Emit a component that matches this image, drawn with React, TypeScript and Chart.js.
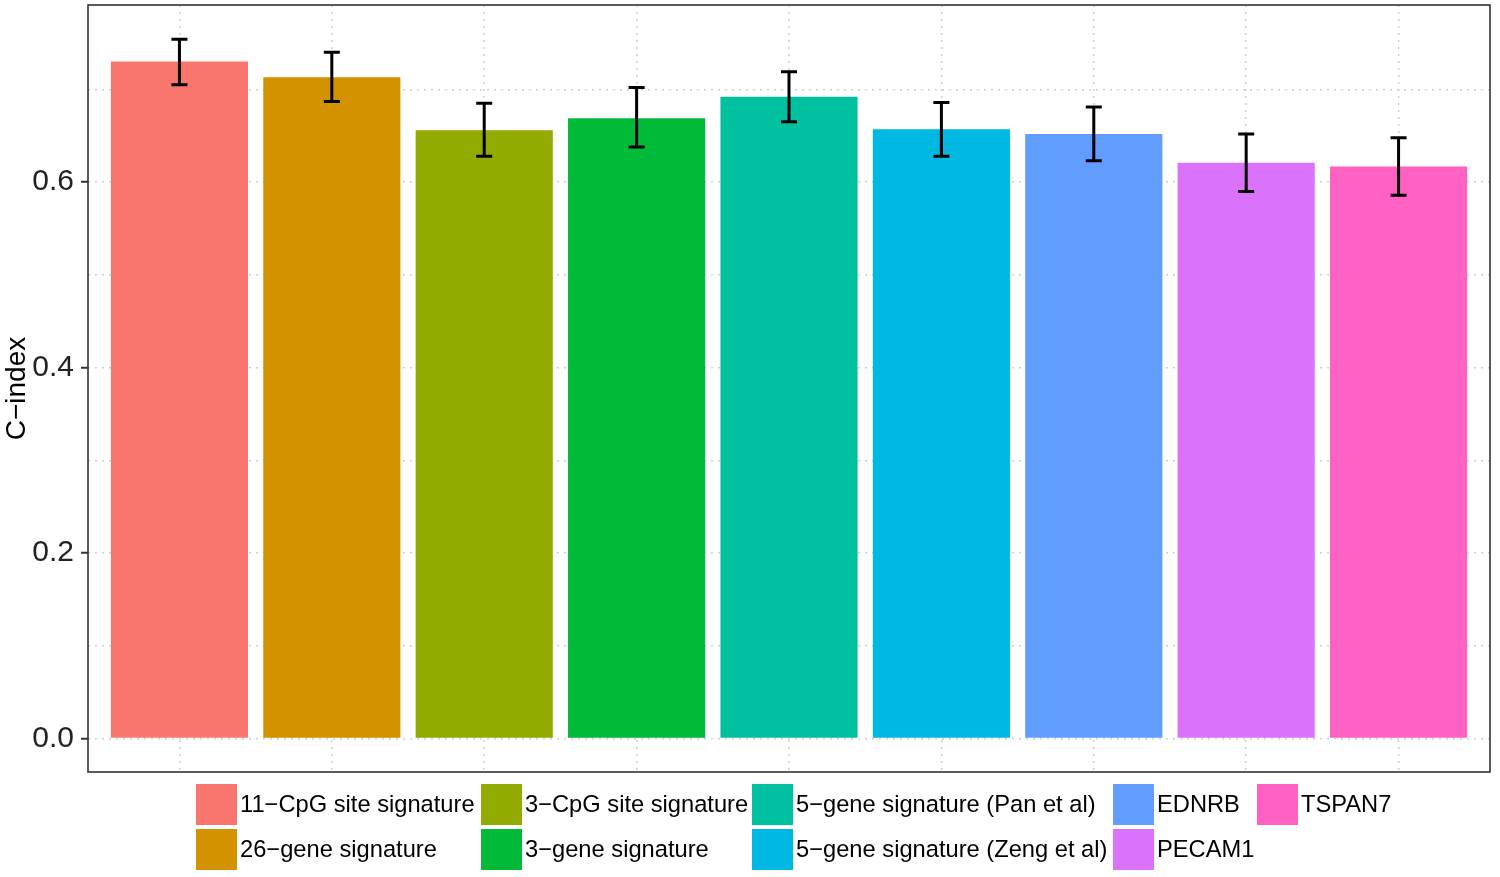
import React, { useEffect, useRef } from "react";
import { Chart, registerables } from "chart.js";

Chart.register(...registerables);

const categories = [
  "11−CpG site signature",
  "26−gene signature",
  "3−CpG site signature",
  "3−gene signature",
  "5−gene signature (Pan et al)",
  "5−gene signature (Zeng et al)",
  "EDNRB",
  "PECAM1",
  "TSPAN7",
];
const cIndex = [0.73, 0.713, 0.656, 0.669, 0.692, 0.657, 0.652, 0.621, 0.617];
const ciLower = [0.705, 0.687, 0.628, 0.638, 0.665, 0.628, 0.623, 0.59, 0.586];
const ciUpper = [0.754, 0.74, 0.685, 0.702, 0.719, 0.686, 0.681, 0.652, 0.648];
const colors = [
  "#F8766D",
  "#D39200",
  "#93AA00",
  "#00BA38",
  "#00C19F",
  "#00B9E3",
  "#619CFF",
  "#DB72FB",
  "#FF61C3",
];
const yMajorTicks = [0, 0.2, 0.4, 0.6];
const yMinorTicks = [0.1, 0.3, 0.5, 0.7];
const yTickValues = [...yMajorTicks, ...yMinorTicks].sort((a, b) => a - b);
const positions = categories.map((_, i) => i + 1);

const FONT = "'Liberation Sans', Arial, Helvetica, sans-serif";
const legendColumnLefts = [196, 481, 752, 1113, 1257];
const legendRowTops = [784, 829];

const errorBarPlugin = {
  id: "errorBars",
  afterDatasetsDraw(chart: any) {
    const ctx = chart.ctx;
    const xs = chart.scales.x;
    const ys = chart.scales.y;
    ctx.save();
    ctx.strokeStyle = "#000";
    ctx.lineWidth = 3;
    ctx.lineCap = "butt";
    positions.forEach((p, i) => {
      const x = xs.getPixelForValue(p);
      const y1 = ys.getPixelForValue(ciLower[i]);
      const y2 = ys.getPixelForValue(ciUpper[i]);
      ctx.beginPath();
      ctx.moveTo(x, y1);
      ctx.lineTo(x, y2);
      ctx.moveTo(x - 8, y1);
      ctx.lineTo(x + 8, y1);
      ctx.moveTo(x - 8, y2);
      ctx.lineTo(x + 8, y2);
      ctx.stroke();
    });
    ctx.restore();
  },
};

const panelBorderPlugin = {
  id: "panelBorder",
  afterDraw(chart: any) {
    const { ctx, chartArea } = chart;
    ctx.save();
    ctx.strokeStyle = "#333333";
    ctx.lineWidth = 1.6;
    ctx.strokeRect(
      chartArea.left,
      chartArea.top,
      chartArea.right - chartArea.left,
      chartArea.bottom - chartArea.top
    );
    ctx.restore();
  },
};

export default function App() {
  const canvasRef = useRef<HTMLCanvasElement | null>(null);

  useEffect(() => {
    if (!canvasRef.current) return;
    const chart = new Chart(canvasRef.current, {
      type: "bar",
      data: {
        datasets: [
          {
            label: "C-index",
            data: positions.map((p, i) => ({ x: p, y: cIndex[i] })),
            backgroundColor: colors,
            borderWidth: 0,
            categoryPercentage: 0.9,
            barPercentage: 1,
          },
        ],
      },
      options: {
        animation: false,
        responsive: false,
        devicePixelRatio: 1,
        layout: { padding: { left: 0, right: 10, top: 5, bottom: 105 } },
        plugins: {
          legend: { display: false },
          tooltip: { enabled: false },
        },
        scales: {
          x: {
            type: "linear",
            min: 0.4,
            max: 9.6,
            offset: false,
            afterBuildTicks: (scale: any) => {
              scale.ticks = positions.map((v) => ({ value: v }));
            },
            afterFit: (scale: any) => {
              scale.height = 0;
              scale.paddingLeft = 0;
              scale.paddingRight = 0;
            },
            ticks: { display: false },
            grid: {
              offset: false,
              color: "#cfcfcf",
              lineWidth: 1.5,
              drawTicks: false,
            },
            border: { display: false, dash: [2, 5] },
          },
          y: {
            type: "linear",
            min: -0.036,
            max: 0.791,
            afterBuildTicks: (scale: any) => {
              scale.ticks = yTickValues.map((v) => ({ value: v }));
            },
            afterFit: (scale: any) => {
              scale.width = 88;
              scale.paddingTop = 0;
              scale.paddingBottom = 0;
            },
            ticks: {
              padding: 7,
              color: "#222222",
              font: { family: FONT, size: 30 },
              callback: (v: any) =>
                yMajorTicks.some((m) => Math.abs(m - Number(v)) < 1e-9)
                  ? Number(v).toFixed(1)
                  : "",
            },
            grid: {
              color: "#cfcfcf",
              lineWidth: 1.5,
              drawTicks: true,
              tickLength: 7,
              tickWidth: 2,
              tickBorderDash: [],
              tickColor: (ctx: any) =>
                yMajorTicks.some((m) => Math.abs(m - ctx.tick?.value) < 1e-9)
                  ? "#333333"
                  : "rgba(0,0,0,0)",
            },
            border: { display: false, dash: [2, 5] },
            title: {
              display: true,
              text: "C−index",
              color: "#000",
              font: { family: FONT, size: 28 },
              padding: { top: 0, bottom: 0 },
            },
          },
        },
      },
      plugins: [errorBarPlugin, panelBorderPlugin],
    } as any);
    return () => chart.destroy();
  }, []);

  return (
    <div
      style={{
        position: "absolute",
        left: 0,
        top: 0,
        width: 1500,
        height: 877,
        background: "#fff",
        overflow: "hidden",
      }}
    >
      <canvas ref={canvasRef} width={1500} height={877} style={{ display: "block" }} />
      {categories.map((c, i) => {
        const col = Math.floor(i / 2);
        const row = i % 2;
        return (
          <div
            key={c}
            style={{
              position: "absolute",
              left: legendColumnLefts[col],
              top: legendRowTops[row],
              height: 41,
              display: "flex",
              alignItems: "center",
              whiteSpace: "nowrap",
            }}
          >
            <div
              style={{
                width: 41,
                height: 41,
                background: colors[i],
                marginRight: 3,
                flex: "none",
              }}
            />
            <span
              style={{
                fontFamily: FONT,
                fontSize: 23.7,
                color: "#000",
                lineHeight: "41px",
              }}
            >
              {c}
            </span>
          </div>
        );
      })}
    </div>
  );
}
